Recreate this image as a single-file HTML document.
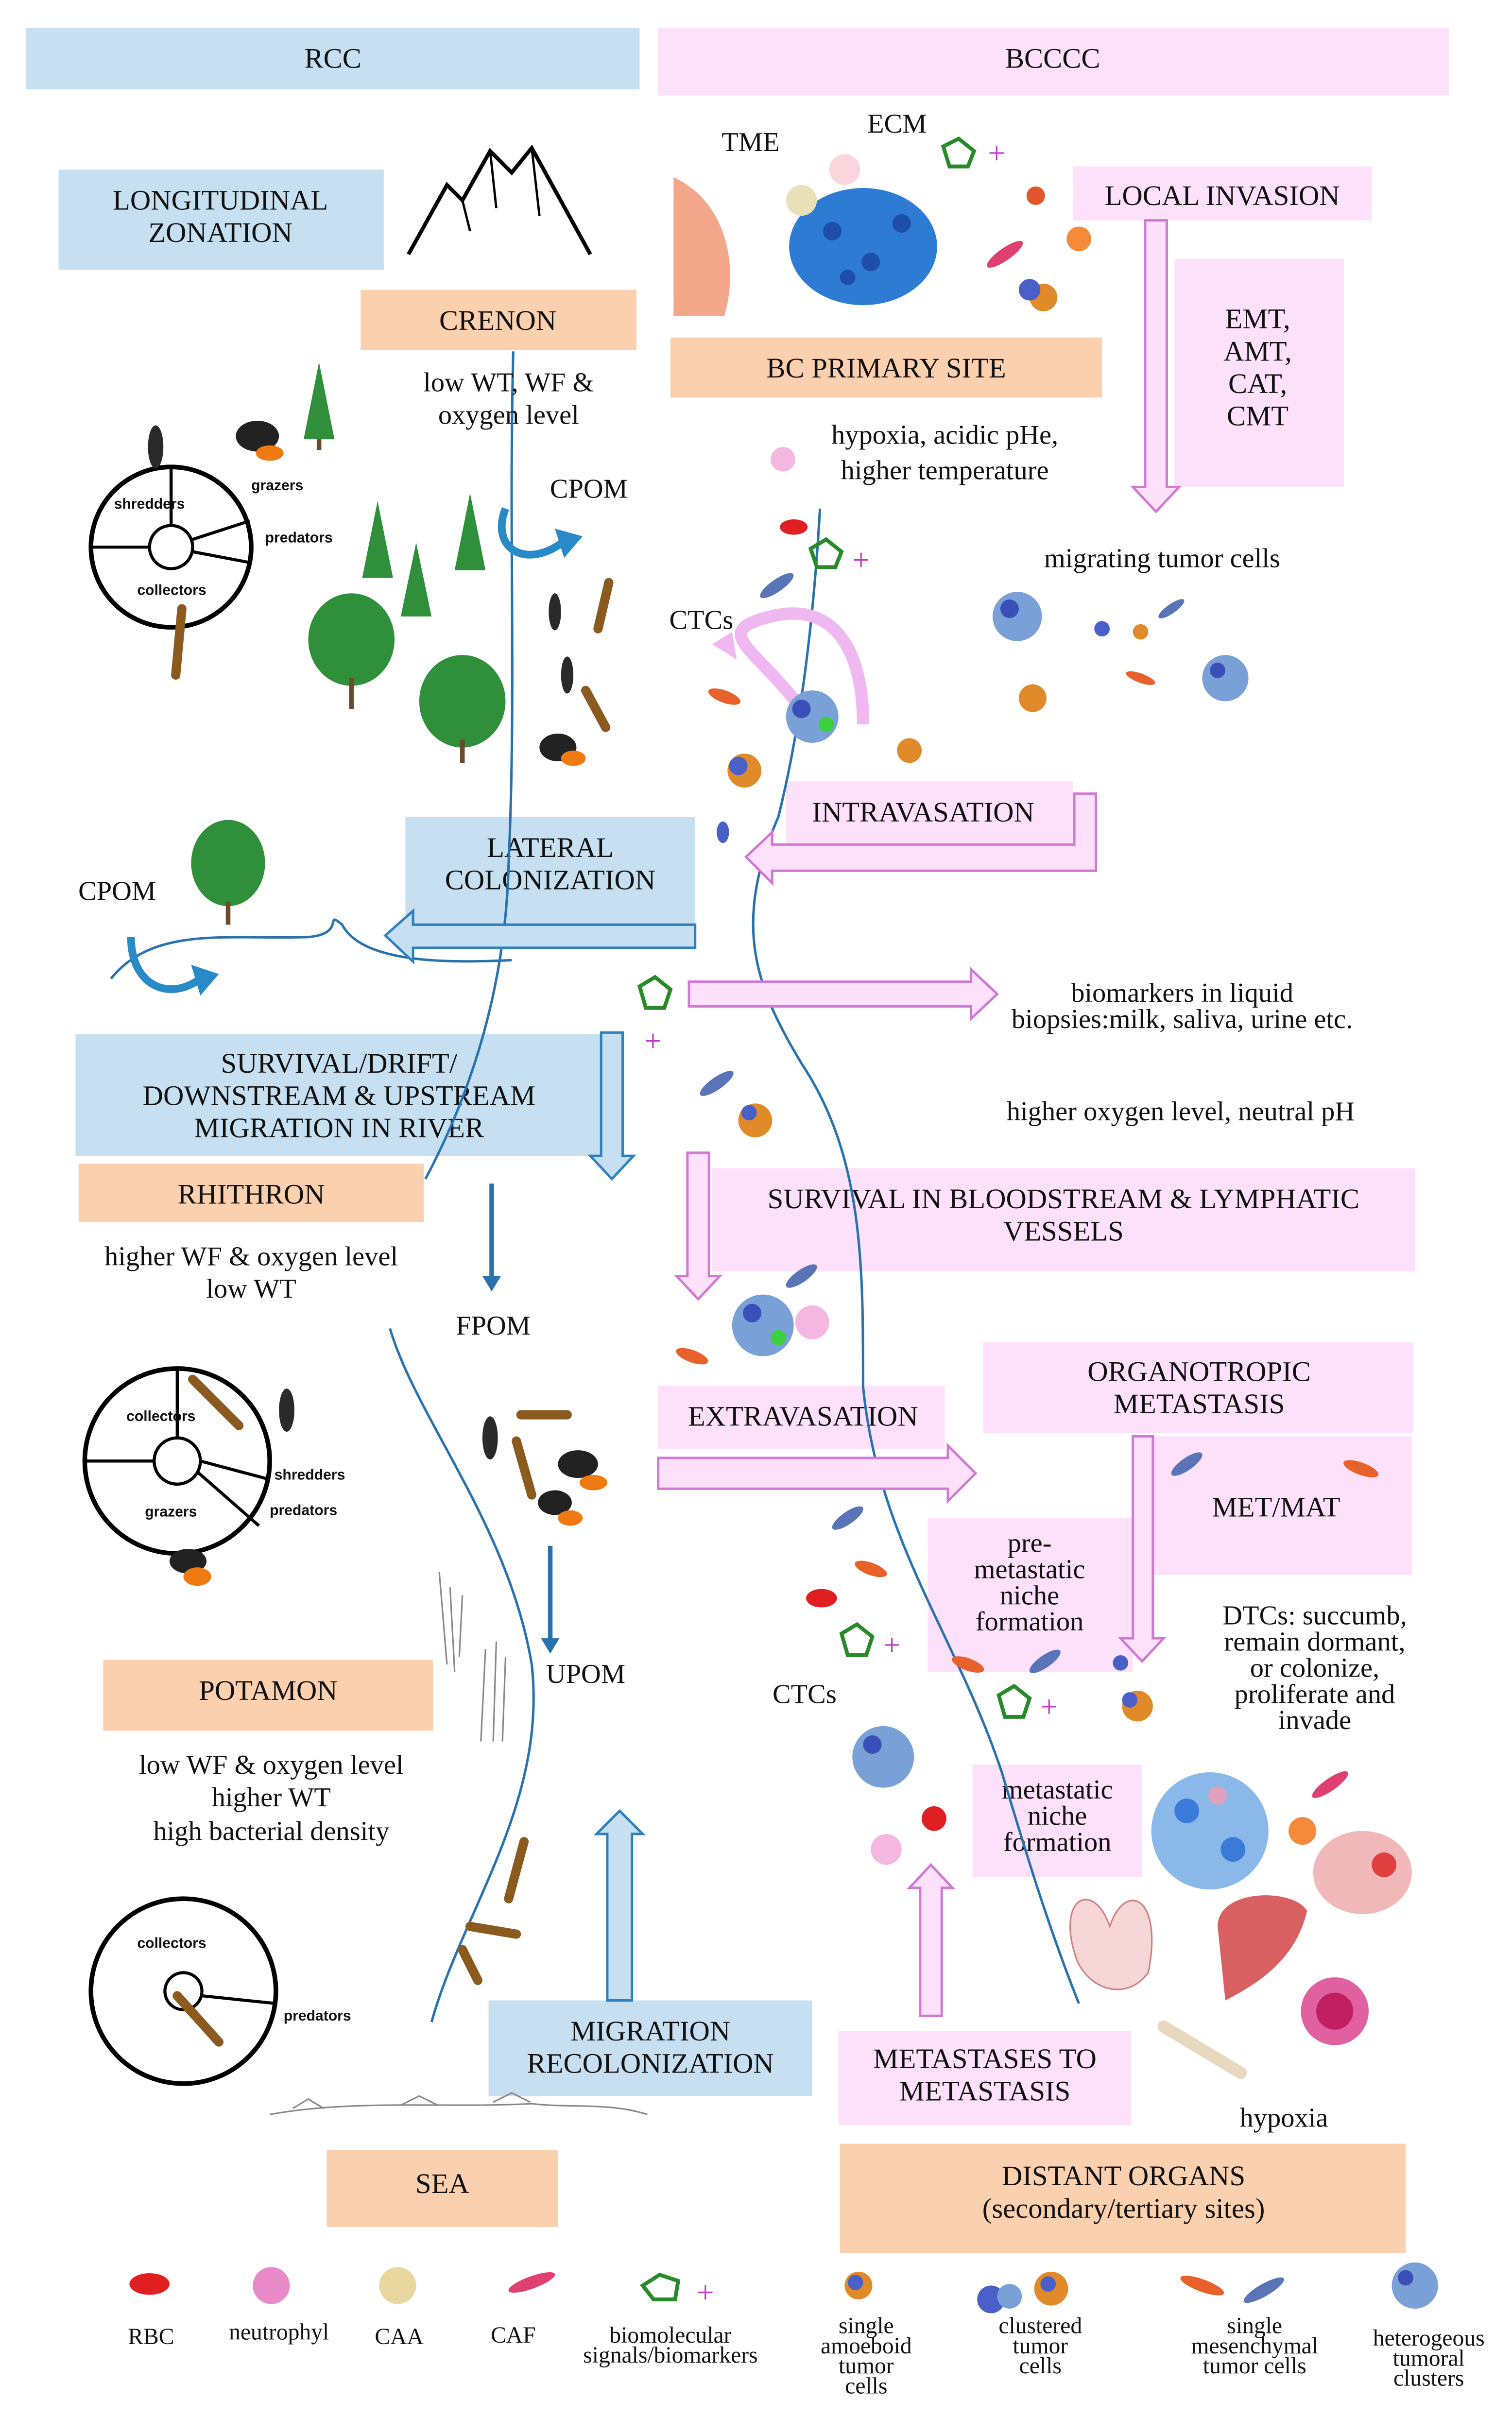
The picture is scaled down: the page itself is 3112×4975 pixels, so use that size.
<!DOCTYPE html>
<html><head><meta charset="utf-8"><style>
html,body{margin:0;padding:0;background:#fff}
svg{display:block}
text{font-family:"Liberation Serif",serif;fill:#111}
.b{font-size:18.5px}
.s{font-size:17.8px}
.w{font-family:"Liberation Sans",sans-serif;font-size:9.5px;font-weight:bold}
.l{font-size:15px}
.blue{fill:#c6e0f1}
.pink{fill:#fde1fb}
.or{fill:#fbd0ae}
.ba{fill:#c6e0f1;stroke:#2f80bd;stroke-width:1.6}
.pa{fill:#fde1fb;stroke:#d07ad4;stroke-width:1.6}
.riv{fill:none;stroke:#2a72ad;stroke-width:1.6}
</style></head><body>
<svg width="3112" height="4975" viewBox="0 0 981 1568.3" preserveAspectRatio="none" xmlns="http://www.w3.org/2000/svg">
<rect width="1000" height="1600" fill="#fff"/>
<rect x="17" y="18" width="398" height="40" class="blue"/><text x="216" y="44" class="b" text-anchor="middle">RCC</text>
<rect x="427" y="18" width="513" height="44" class="pink"/><text x="683" y="44" class="b" text-anchor="middle">BCCCC</text>
<rect x="38" y="110" width="211" height="65" class="blue"/><text x="143" y="136" class="b" text-anchor="middle">LONGITUDINAL</text><text x="143" y="157" class="b" text-anchor="middle">ZONATION</text>
<rect x="234" y="188" width="179" height="39" class="or"/><text x="323" y="214" class="b" text-anchor="middle">CRENON</text>
<rect x="435" y="219" width="280" height="39" class="or"/><text x="575" y="245" class="b" text-anchor="middle">BC PRIMARY SITE</text>
<rect x="696" y="108" width="194" height="35" class="pink"/><text x="793" y="133" class="b" text-anchor="middle">LOCAL INVASION</text>
<rect x="762" y="168" width="110" height="148" class="pink"/>
<text x="816" y="213" class="b" text-anchor="middle">EMT,</text><text x="816" y="234" class="b" text-anchor="middle">AMT,</text><text x="816" y="255" class="b" text-anchor="middle">CAT,</text><text x="816" y="276" class="b" text-anchor="middle">CMT</text>
<rect x="263" y="530" width="188" height="70" class="blue"/><text x="357" y="556" class="b" text-anchor="middle">LATERAL</text><text x="357" y="577" class="b" text-anchor="middle">COLONIZATION</text>
<rect x="510" y="507" width="186" height="43" class="pink"/><text x="599" y="533" class="b" text-anchor="middle">INTRAVASATION</text>
<rect x="49" y="671" width="341" height="79" class="blue"/>
<text x="220" y="696" class="b" text-anchor="middle">SURVIVAL/DRIFT/</text><text x="220" y="717" class="b" text-anchor="middle">DOWNSTREAM &amp; UPSTREAM</text><text x="220" y="738" class="b" text-anchor="middle">MIGRATION IN RIVER</text>
<rect x="51" y="755" width="224" height="38" class="or"/><text x="163" y="781" class="b" text-anchor="middle">RHITHRON</text>
<rect x="462" y="758" width="456" height="67" class="pink"/><text x="690" y="784" class="b" text-anchor="middle">SURVIVAL IN BLOODSTREAM &amp; LYMPHATIC</text><text x="690" y="805" class="b" text-anchor="middle">VESSELS</text>
<rect x="638" y="871" width="279" height="59" class="pink"/><text x="778" y="896" class="b" text-anchor="middle">ORGANOTROPIC</text><text x="778" y="917" class="b" text-anchor="middle">METASTASIS</text>
<rect x="427" y="899" width="186" height="41" class="pink"/><text x="521" y="925" class="b" text-anchor="middle">EXTRAVASATION</text>
<rect x="740" y="932" width="176" height="90" class="pink"/><text x="828" y="984" class="b" text-anchor="middle">MET/MAT</text>
<rect x="602" y="985" width="133" height="100" class="pink"/>
<text x="668" y="1007" class="s" text-anchor="middle">pre-</text><text x="668" y="1024" class="s" text-anchor="middle">metastatic</text><text x="668" y="1041" class="s" text-anchor="middle">niche</text><text x="668" y="1058" class="s" text-anchor="middle">formation</text>
<rect x="67" y="1077" width="214" height="46" class="or"/><text x="174" y="1103" class="b" text-anchor="middle">POTAMON</text>
<rect x="631" y="1145" width="110" height="73" class="pink"/>
<text x="686" y="1167" class="s" text-anchor="middle">metastatic</text><text x="686" y="1184" class="s" text-anchor="middle">niche</text><text x="686" y="1201" class="s" text-anchor="middle">formation</text>
<rect x="317" y="1298" width="210" height="62" class="blue"/><text x="422" y="1324" class="b" text-anchor="middle">MIGRATION</text><text x="422" y="1345" class="b" text-anchor="middle">RECOLONIZATION</text>
<rect x="544" y="1318" width="190" height="61" class="pink"/><text x="639" y="1342" class="b" text-anchor="middle">METASTASES TO</text><text x="639" y="1363" class="b" text-anchor="middle">METASTASIS</text>
<rect x="212" y="1395" width="150" height="50" class="or"/><text x="287" y="1423" class="b" text-anchor="middle">SEA</text>
<rect x="545" y="1391" width="367" height="71" class="or"/><text x="729" y="1418" class="b" text-anchor="middle">DISTANT ORGANS</text><text x="729" y="1439" class="b" text-anchor="middle">(secondary/tertiary sites)</text>

<path class="riv" d="M333 228 C330 350,335 450,330 560 C328 650,300 720,276 765"/>
<path class="riv" d="M72 635 C100 600,150 610,200 608 C225 606,210 590,222 600 C235 625,290 625,332 623"/>
<path class="riv" d="M253 862 C270 920,330 990,345 1080 C355 1170,300 1240,280 1312"/>
<path class="riv" d="M532 330 C528 400,520 470,505 530 C475 600,490 640,520 690 C560 750,560 820,560 900 C570 1000,620 1060,650 1150 C665 1200,680 1250,700 1300"/>

<polygon class="pa" points="743,143 757,143 757,316 765,316 750,332 735,316 743,316"/>
<polygon class="pa" points="697,515 711,515 711,565 501,565 501,573 484,556 501,540 501,548 697,548"/>
<polygon class="ba" points="451,600 451,615 268,615 268,624 250,607 268,591 268,600"/>
<polygon class="pa" points="447,637 630,637 630,629 647,645 630,661 630,653 447,653"/>
<polygon class="ba" points="390,670 404,670 404,750 411,750 397,765 383,750 390,750"/>
<polygon class="pa" points="446,748 460,748 460,828 467,828 453,843 439,828 446,828"/>
<polygon class="pa" points="427,946 615,946 615,938 633,956 615,974 615,966 427,966"/>
<polygon class="pa" points="735,932 748,932 748,1063 755,1063 741,1078 727,1063 735,1063"/>
<polygon class="ba" points="394,1298 410,1298 410,1190 417,1190 402,1175 387,1190 394,1190"/>
<polygon class="pa" points="597,1308 611,1308 611,1225 618,1225 604,1210 590,1225 597,1225"/>
<line x1="319" y1="768" x2="319" y2="830" stroke="#2a72ad" stroke-width="3"/><polygon points="313,828 325,828 319,838" fill="#2a72ad"/>
<line x1="357" y1="1003" x2="357" y2="1065" stroke="#2a72ad" stroke-width="3"/><polygon points="351,1063 363,1063 357,1073" fill="#2a72ad"/>
<path d="M328 330 C318 355,340 370,365 352" fill="none" stroke="#2a8ac8" stroke-width="5"/><polygon points="360,343 378,348 366,362" fill="#2a8ac8"/>
<path d="M85 608 C85 640,110 650,130 635" fill="none" stroke="#2a8ac8" stroke-width="5"/><polygon points="124,626 142,632 130,646" fill="#2a8ac8"/>
<path d="M520 460 C490 420,460 410,500 400 C540 390,560 420,560 470" fill="none" stroke="#f0b8f0" stroke-width="8"/><polygon points="475,410 462,418 478,428" fill="#f0b8f0"/>

<text x="487" y="98" class="s" text-anchor="middle">TME</text>
<text x="582" y="86" class="s" text-anchor="middle">ECM</text>
<text x="330" y="254" class="s" text-anchor="middle">low WT, WF &amp;</text><text x="330" y="275" class="s" text-anchor="middle">oxygen level</text>
<text x="382" y="323" class="s" text-anchor="middle">CPOM</text>
<text x="613" y="288" class="s" text-anchor="middle">hypoxia, acidic pHe,</text><text x="613" y="311" class="s" text-anchor="middle">higher temperature</text>
<text x="754" y="368" class="s" text-anchor="middle">migrating tumor cells</text>
<text x="455" y="408" class="s" text-anchor="middle">CTCs</text>
<text x="76" y="584" class="s" text-anchor="middle">CPOM</text>
<text x="767" y="650" class="s" text-anchor="middle">biomarkers in liquid</text><text x="767" y="667" class="s" text-anchor="middle">biopsies:milk, saliva, urine etc.</text>
<text x="766" y="727" class="s" text-anchor="middle">higher oxygen level, neutral pH</text>
<text x="163" y="821" class="s" text-anchor="middle">higher WF &amp; oxygen level</text><text x="163" y="842" class="s" text-anchor="middle">low WT</text>
<text x="320" y="866" class="s" text-anchor="middle">FPOM</text>
<text x="380" y="1092" class="s" text-anchor="middle">UPOM</text>
<text x="522" y="1105" class="s" text-anchor="middle">CTCs</text>
<text x="853" y="1054" class="s" text-anchor="middle">DTCs: succumb,</text><text x="853" y="1071" class="s" text-anchor="middle">remain dormant,</text><text x="853" y="1088" class="s" text-anchor="middle">or colonize,</text><text x="853" y="1105" class="s" text-anchor="middle">proliferate and</text><text x="853" y="1122" class="s" text-anchor="middle">invade</text>
<text x="176" y="1151" class="s" text-anchor="middle">low WF &amp; oxygen level</text><text x="176" y="1172" class="s" text-anchor="middle">higher WT</text><text x="176" y="1194" class="s" text-anchor="middle">high bacterial density</text>
<text x="833" y="1380" class="s" text-anchor="middle">hypoxia</text>

<path d="M265 165 L290 120 L300 130 L318 98 L332 112 L345 96 L383 165" fill="none" stroke="#000" stroke-width="2.5"/>
<path d="M300 130 L305 150 M318 98 L322 135 M345 96 L350 140" stroke="#000" stroke-width="1.5" fill="none"/>

<g fill="none" stroke="#000" stroke-width="3">
<circle cx="111" cy="355" r="52"/><circle cx="111" cy="355" r="14" stroke-width="2"/>
<circle cx="115" cy="948" r="60"/><circle cx="115" cy="948" r="15" stroke-width="2"/>
<circle cx="119" cy="1292" r="60"/><circle cx="119" cy="1292" r="12" stroke-width="2"/>
</g>
<g stroke="#000" stroke-width="2">
<line x1="59" y1="355" x2="97" y2="355"/><line x1="125" y1="350" x2="162" y2="338"/><line x1="125" y1="358" x2="162" y2="365"/><line x1="111" y1="341" x2="111" y2="303"/>
<line x1="55" y1="948" x2="100" y2="948"/><line x1="130" y1="948" x2="175" y2="960"/><line x1="128" y1="955" x2="168" y2="990"/><line x1="115" y1="933" x2="115" y2="888"/>
<line x1="131" y1="1295" x2="179" y2="1300"/>
</g>
<text x="74" y="330" class="w">shredders</text><text x="163" y="318" class="w">grazers</text><text x="172" y="352" class="w">predators</text><text x="89" y="386" class="w">collectors</text>
<text x="82" y="922" class="w">collectors</text><text x="178" y="960" class="w">shredders</text><text x="175" y="983" class="w">predators</text><text x="94" y="984" class="w">grazers</text>
<text x="89" y="1264" class="w">collectors</text><text x="184" y="1311" class="w">predators</text>

<g fill="#2f8f3a">
<polygon points="207,235 197,285 217,285"/><polygon points="245,325 235,375 255,375"/><polygon points="270,352 260,400 280,400"/><polygon points="305,320 295,370 315,370"/>
<ellipse cx="228" cy="415" rx="28" ry="30"/><ellipse cx="300" cy="455" rx="28" ry="30"/><ellipse cx="148" cy="560" rx="24" ry="28"/>
</g>
<g stroke="#6b4a2a" stroke-width="3"><line x1="207" y1="285" x2="207" y2="292"/><line x1="228" y1="440" x2="228" y2="460"/><line x1="300" y1="480" x2="300" y2="495"/><line x1="148" y1="585" x2="148" y2="600"/></g>
<g stroke="#888" stroke-width="1" fill="none"><path d="M285 1020 L290 1080 M292 1030 L295 1085 M300 1035 L298 1075 M315 1070 L312 1130 M322 1065 L320 1130 M328 1075 L326 1130"/>
<path d="M175 1372 C230 1362,290 1368,345 1365 C370 1368,395 1364,420 1372 M190 1368 L200 1362 L210 1368 M260 1366 L272 1360 L284 1366 M320 1364 L332 1358 L344 1364"/></g>
<g fill="#2a2a2a"><ellipse cx="101" cy="290" rx="5" ry="14"/><ellipse cx="360" cy="397" rx="4" ry="12"/><ellipse cx="368" cy="438" rx="4" ry="12"/><ellipse cx="186" cy="915" rx="5" ry="14"/><ellipse cx="318" cy="933" rx="5" ry="14"/></g>
<g fill="#222"><ellipse cx="167" cy="283" rx="14" ry="10"/><ellipse cx="362" cy="485" rx="12" ry="9"/><ellipse cx="375" cy="950" rx="13" ry="9"/><ellipse cx="360" cy="975" rx="11" ry="8"/><ellipse cx="122" cy="1013" rx="12" ry="8"/></g>
<g fill="#f07a12"><ellipse cx="175" cy="294" rx="9" ry="5"/><ellipse cx="372" cy="492" rx="8" ry="5"/><ellipse cx="385" cy="962" rx="9" ry="5"/><ellipse cx="370" cy="985" rx="8" ry="5"/><ellipse cx="128" cy="1023" rx="9" ry="6"/></g>
<g stroke="#8a5a1e" stroke-width="6" stroke-linecap="round"><line x1="118" y1="395" x2="114" y2="438"/><line x1="395" y1="378" x2="388" y2="408"/><line x1="380" y1="448" x2="393" y2="472"/><line x1="125" y1="895" x2="155" y2="925"/><line x1="338" y1="918" x2="368" y2="918"/><line x1="335" y1="935" x2="345" y2="970"/><line x1="340" y1="1195" x2="330" y2="1232"/><line x1="305" y1="1250" x2="335" y2="1255"/><line x1="300" y1="1265" x2="310" y2="1285"/><line x1="115" y1="1295" x2="142" y2="1325"/></g>

<path d="M437 115 C470 130,480 170,470 205 L437 205 Z" fill="#f2a78a"/>
<ellipse cx="560" cy="160" rx="48" ry="38" fill="#2e7bd3"/>
<g fill="#1d4ea8"><circle cx="540" cy="150" r="6"/><circle cx="565" cy="170" r="6"/><circle cx="585" cy="145" r="6"/><circle cx="550" cy="180" r="5"/></g>
<circle cx="520" cy="130" r="10" fill="#e8e0b8"/><circle cx="548" cy="110" r="10" fill="#fbd5dc"/><circle cx="700" cy="155" r="8" fill="#f58a3a"/><circle cx="672" cy="127" r="6" fill="#e0552c"/>
<ellipse cx="652" cy="165" rx="14" ry="4" fill="#e04070" transform="rotate(-35 652 165)"/>
<circle cx="677" cy="193" r="9" fill="#e08a2a"/><circle cx="668" cy="188" r="7" fill="#4a5fc8"/>
<polygon points="612,95 622,90 632,98 628,108 616,108" fill="none" stroke="#2a8a2a" stroke-width="2.5"/><text x="641" y="106" style="font-size:20px;fill:#c03ac8">+</text>
<g>
<circle cx="508" cy="298" r="8" fill="#f4b8e0"/>
<ellipse cx="515" cy="342" rx="9" ry="5" fill="#e02020"/>
<polygon points="526,356 536,350 546,358 542,368 530,368" fill="none" stroke="#2a8a2a" stroke-width="2.5"/><text x="553" y="370" style="font-size:20px;fill:#c03ac8">+</text>
<ellipse cx="504" cy="380" rx="13" ry="4" fill="#5a74b8" transform="rotate(-35 504 380)"/>
<ellipse cx="470" cy="452" rx="11" ry="4" fill="#e8602a" transform="rotate(20 470 452)"/>
<circle cx="527" cy="465" r="17" fill="#7aa0d8"/><circle cx="520" cy="460" r="6" fill="#3a4fb8"/><circle cx="536" cy="470" r="5" fill="#3ad040"/>
<circle cx="590" cy="487" r="8" fill="#e08a2a"/><circle cx="483" cy="500" r="11" fill="#e08a2a"/><circle cx="479" cy="497" r="6" fill="#4a5fc8"/>
<ellipse cx="469" cy="540" rx="4" ry="7" fill="#4a5fc8"/>
<circle cx="660" cy="400" r="16" fill="#7aa0d8"/><circle cx="655" cy="395" r="6" fill="#3a4fb8"/><circle cx="670" cy="453" r="9" fill="#e08a2a"/>
<circle cx="715" cy="408" r="5" fill="#4a5fc8"/><circle cx="740" cy="410" r="5" fill="#e08a2a"/><ellipse cx="760" cy="395" rx="10" ry="3" fill="#5a74b8" transform="rotate(-35 760 395)"/>
<ellipse cx="740" cy="440" rx="10" ry="3" fill="#e8602a" transform="rotate(20 740 440)"/>
<circle cx="795" cy="440" r="15" fill="#7aa0d8"/><circle cx="790" cy="435" r="5" fill="#3a4fb8"/>
<polygon points="415,640 425,634 435,642 431,654 419,654" fill="none" stroke="#2a8a2a" stroke-width="2.5"/><text x="418" y="682" style="font-size:20px;fill:#c03ac8">+</text>
<ellipse cx="465" cy="703" rx="13" ry="4" fill="#5a74b8" transform="rotate(-35 465 703)"/>
<circle cx="490" cy="727" r="11" fill="#e08a2a"/><circle cx="486" cy="722" r="5" fill="#4a5fc8"/>
<circle cx="495" cy="860" r="20" fill="#7aa0d8"/><circle cx="488" cy="852" r="6" fill="#3a4fb8"/><circle cx="505" cy="868" r="5" fill="#3ad040"/>
<circle cx="527" cy="858" r="11" fill="#f4b8e0"/><ellipse cx="520" cy="828" rx="12" ry="4" fill="#5a74b8" transform="rotate(-35 520 828)"/><ellipse cx="449" cy="880" rx="11" ry="4" fill="#e8602a" transform="rotate(20 449 880)"/>
<ellipse cx="550" cy="985" rx="12" ry="4" fill="#5a74b8" transform="rotate(-35 550 985)"/><ellipse cx="565" cy="1018" rx="11" ry="4" fill="#e8602a" transform="rotate(20 565 1018)"/>
<ellipse cx="533" cy="1037" rx="10" ry="6" fill="#e02020"/>
<polygon points="546,1060 556,1054 566,1062 562,1074 550,1074" fill="none" stroke="#2a8a2a" stroke-width="2.5"/><text x="573" y="1074" style="font-size:20px;fill:#c03ac8">+</text>
<polygon points="648,1100 658,1094 668,1102 664,1114 652,1114" fill="none" stroke="#2a8a2a" stroke-width="2.5"/><text x="675" y="1114" style="font-size:20px;fill:#c03ac8">+</text>
<ellipse cx="628" cy="1080" rx="11" ry="4" fill="#e8602a" transform="rotate(20 628 1080)"/><ellipse cx="678" cy="1078" rx="12" ry="4" fill="#5a74b8" transform="rotate(-35 678 1078)"/>
<circle cx="727" cy="1079" r="5" fill="#4a5fc8"/><circle cx="738" cy="1107" r="10" fill="#e08a2a"/><circle cx="733" cy="1103" r="5" fill="#4a5fc8"/>
<ellipse cx="770" cy="950" rx="12" ry="4" fill="#5a74b8" transform="rotate(-35 770 950)"/><ellipse cx="883" cy="953" rx="12" ry="4" fill="#e8602a" transform="rotate(20 883 953)"/>
<circle cx="573" cy="1140" r="20" fill="#7aa0d8"/><circle cx="566" cy="1132" r="6" fill="#3a4fb8"/>
<circle cx="606" cy="1180" r="8" fill="#e02020"/><circle cx="575" cy="1200" r="10" fill="#f4b8e0"/>
<circle cx="785" cy="1188" r="38" fill="#8ab8e8"/><circle cx="770" cy="1175" r="8" fill="#3a7ad8"/><circle cx="800" cy="1200" r="8" fill="#3a7ad8"/><circle cx="790" cy="1165" r="6" fill="#e0a0c0"/>
<circle cx="845" cy="1188" r="9" fill="#f58a3a"/><ellipse cx="863" cy="1158" rx="14" ry="4" fill="#e04070" transform="rotate(-35 863 1158)"/>
<ellipse cx="884" cy="1215" rx="32" ry="27" fill="#f0b8b8"/><circle cx="898" cy="1210" r="8" fill="#e04040"/>
<path d="M698 1270 C685 1230,710 1220,720 1250 C730 1220,755 1230,745 1280 C730 1300,705 1290,698 1270Z" fill="#f6d6d6" stroke="#d08080"/>
<path d="M790 1250 C790 1225,840 1225,848 1240 C840 1275,810 1290,795 1298 Z" fill="#d86060"/>
<circle cx="866" cy="1305" r="22" fill="#e060a0"/><circle cx="866" cy="1305" r="12" fill="#c02060"/>
<line x1="755" y1="1315" x2="805" y2="1345" stroke="#e8d8c0" stroke-width="8" stroke-linecap="round"/>
</g>

<ellipse cx="97" cy="1482" rx="13" ry="7" fill="#e02020"/>
<circle cx="176" cy="1483" r="12" fill="#e88ac8"/>
<circle cx="258" cy="1483" r="12" fill="#e8d8a0"/>
<ellipse cx="345" cy="1481" rx="16" ry="4" fill="#e04070" transform="rotate(-20 345 1481)"/>
<polygon points="417,1483 428,1476 440,1480 438,1492 424,1492" fill="none" stroke="#2a8a2a" stroke-width="2.5"/><text x="452" y="1494" style="font-size:20px;fill:#c03ac8">+</text>
<circle cx="557" cy="1483" r="9" fill="#e08a2a"/><circle cx="555" cy="1481" r="5" fill="#4a5fc8"/>
<circle cx="643" cy="1492" r="9" fill="#4a5fc8"/><circle cx="655" cy="1490" r="8" fill="#7aa0d8"/><circle cx="682" cy="1485" r="11" fill="#e08a2a"/><circle cx="680" cy="1482" r="5" fill="#4a5fc8"/>
<ellipse cx="780" cy="1483" rx="15" ry="4" fill="#e8602a" transform="rotate(20 780 1483)"/><ellipse cx="820" cy="1486" rx="15" ry="4" fill="#5a74b8" transform="rotate(-30 820 1486)"/>
<circle cx="918" cy="1483" r="15" fill="#7aa0d8"/><circle cx="912" cy="1478" r="5" fill="#3a4fb8"/>
<text x="98" y="1521" class="l" text-anchor="middle">RBC</text>
<text x="181" y="1518" class="l" text-anchor="middle">neutrophyl</text>
<text x="259" y="1521" class="l" text-anchor="middle">CAA</text>
<text x="333" y="1520" class="l" text-anchor="middle">CAF</text>
<text x="435" y="1520" class="l" text-anchor="middle">biomolecular</text><text x="435" y="1533" class="l" text-anchor="middle">signals/biomarkers</text>
<text x="562" y="1514" class="l" text-anchor="middle">single</text><text x="562" y="1527" class="l" text-anchor="middle">amoeboid</text><text x="562" y="1540" class="l" text-anchor="middle">tumor</text><text x="562" y="1553" class="l" text-anchor="middle">cells</text>
<text x="675" y="1514" class="l" text-anchor="middle">clustered</text><text x="675" y="1527" class="l" text-anchor="middle">tumor</text><text x="675" y="1540" class="l" text-anchor="middle">cells</text>
<text x="814" y="1514" class="l" text-anchor="middle">single</text><text x="814" y="1527" class="l" text-anchor="middle">mesenchymal</text><text x="814" y="1540" class="l" text-anchor="middle">tumor cells</text>
<text x="927" y="1522" class="l" text-anchor="middle">heterogeous</text><text x="927" y="1535" class="l" text-anchor="middle">tumoral</text><text x="927" y="1548" class="l" text-anchor="middle">clusters</text>
</svg>
</body></html>
